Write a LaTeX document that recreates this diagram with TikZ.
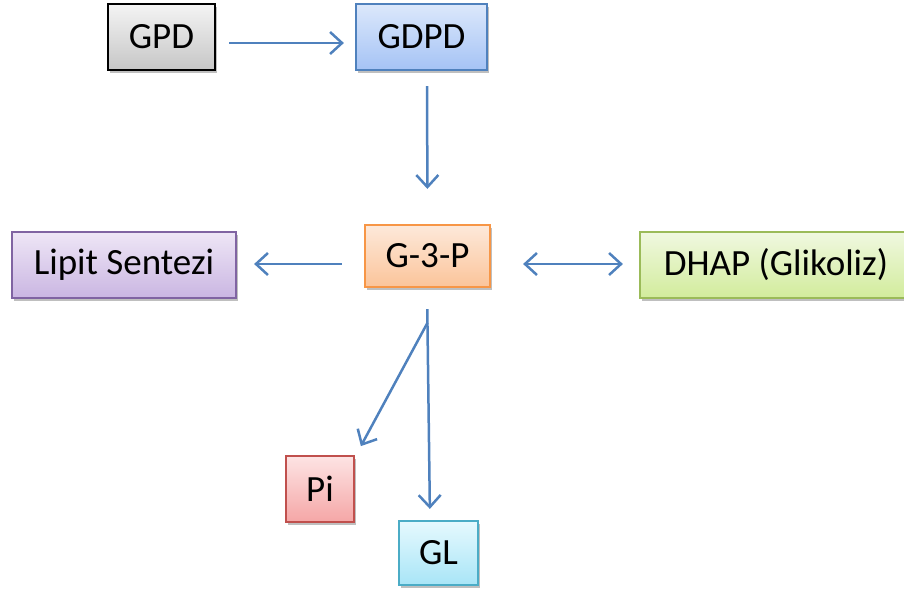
\documentclass[tikz,border=0pt]{standalone}
\usepackage{fontspec}
\setmainfont{Carlito}
\usetikzlibrary{arrows.meta,shadows}
\definecolor{arr}{HTML}{4F81BD}
\definecolor{gpdT}{HTML}{F4F4F4}\definecolor{gpdB}{HTML}{C6C6C6}
\definecolor{bluT}{HTML}{DCE8FB}\definecolor{bluB}{HTML}{A5C3F5}
\definecolor{orD}{HTML}{F79646}\definecolor{orT}{HTML}{FDE9DA}\definecolor{orB}{HTML}{FBC49A}
\definecolor{puD}{HTML}{8064A2}\definecolor{puT}{HTML}{EEE6F6}\definecolor{puB}{HTML}{CAB6E2}
\definecolor{grD}{HTML}{9BBB59}\definecolor{grT}{HTML}{F0F8E0}\definecolor{grB}{HTML}{D2EC9C}
\definecolor{reD}{HTML}{C0504D}\definecolor{reT}{HTML}{FDE4E4}\definecolor{reB}{HTML}{F5A6A6}
\definecolor{cyD}{HTML}{4BACC6}\definecolor{cyT}{HTML}{E6F9FE}\definecolor{cyB}{HTML}{A8E5F7}
\tikzset{
  box/.style={draw, line width=2.2pt, inner sep=0pt, font=\fontsize{37}{44}\selectfont,
    drop shadow={shadow xshift=2pt, shadow yshift=-3pt, opacity=0.25, fill=black}},
  conn/.style={draw=arr, line width=2.5pt, -{Straight Barb[length=12pt,width=22pt,line width=2.5pt]}},
  conn2/.style={draw=arr, line width=2.5pt, {Straight Barb[length=12pt,width=22pt,line width=2.5pt]}-{Straight Barb[length=12pt,width=22pt,line width=2.5pt]}},
}
\begin{document}
\begin{tikzpicture}[x=1pt,y=-1pt]
\useasboundingbox (0,0) rectangle (904,594);
\clip (0,0) rectangle (904,594);
\node[box, draw=black, top color=gpdT, bottom color=gpdB, minimum width=107pt, minimum height=66pt] (GPD) at (161.5,37) {GPD};
\node[box, draw=arr, top color=bluT, bottom color=bluB, minimum width=131pt, minimum height=66pt] (GDPD) at (421.5,37) {GDPD};
\node[box, draw=orD, top color=orT, bottom color=orB, minimum width=125pt, minimum height=62pt] (G3P) at (427.5,256) {G-3-P};
\node[box, draw=puD, top color=puT, bottom color=puB, minimum width=224pt, minimum height=66pt] (LS) at (124,265) {Lipit Sentezi};
\node[box, draw=grD, top color=grT, bottom color=grB, minimum width=272pt, minimum height=66pt] (DHAP) at (776,265) {DHAP (Glikoliz)};
\node[box, draw=reD, top color=reT, bottom color=reB, minimum width=68pt, minimum height=66pt] (Pi) at (320,489) {Pi};
\node[box, draw=cyD, top color=cyT, bottom color=cyB, minimum width=79pt, minimum height=64pt] (GL) at (438.5,553) {GL};

\draw[conn, shorten <=13pt, shorten >=11pt] ([yshift=-6pt]GPD.east) -- ([yshift=-6pt]GDPD.west);
\draw[conn, shorten <=15pt, shorten >=35pt] ([xshift=5.5pt]GDPD.south) -- (G3P.north);
\draw[conn, shorten <=22pt, shorten >=17pt] ([yshift=-8pt]G3P.west) -- ([yshift=1pt]LS.east);
\draw[conn2, shorten <=32pt, shorten >=16pt] ([yshift=-8pt]G3P.east) -- ([yshift=1pt]DHAP.west);
\draw[conn, shorten <=21pt, shorten >=11pt] ([xshift=-0.5pt]G3P.south) -- coordinate[pos=0.15] (br) ([xshift=-8.5pt]GL.north);
\draw[conn, shorten >=10pt] (br) -- ([xshift=1pt]Pi.north east);
\end{tikzpicture}
\end{document}
